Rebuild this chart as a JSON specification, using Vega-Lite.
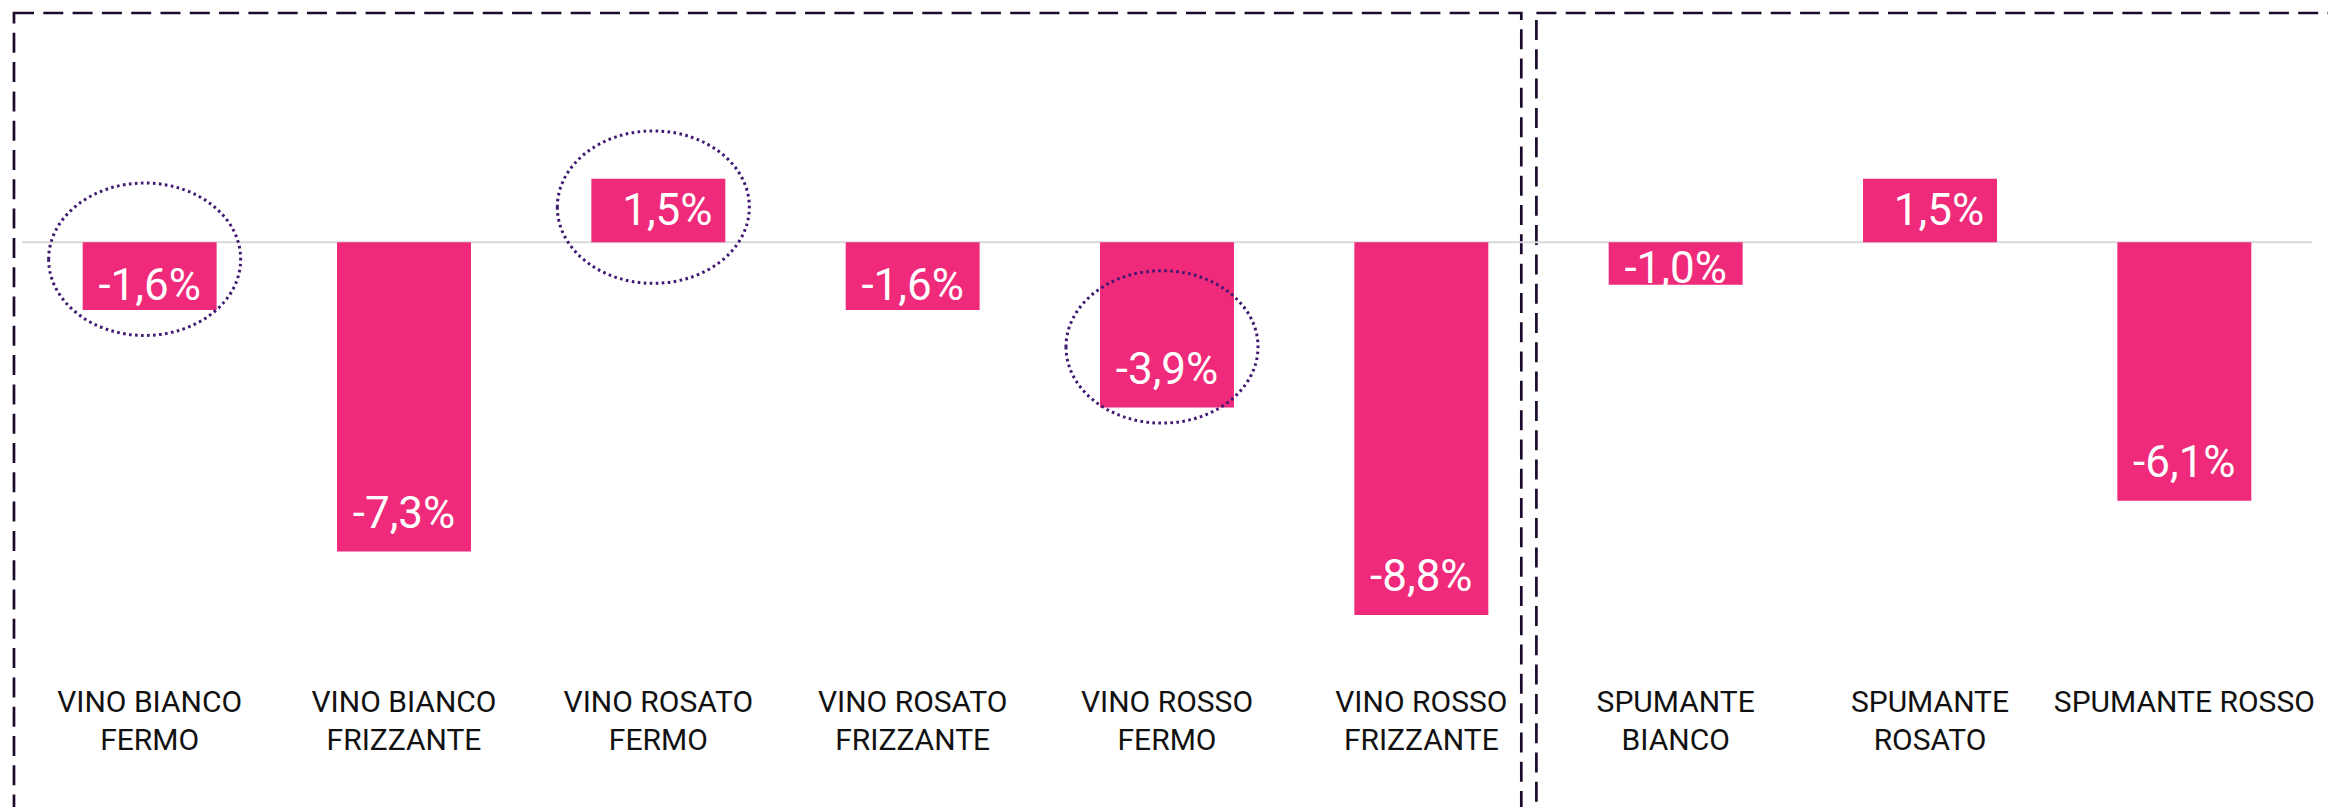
{
  "$schema": "https://vega.github.io/schema/vega-lite/v6.json",
  "width": 2290,
  "height": 794,
  "autosize": {"type": "none"},
  "padding": {"left": 22, "top": 13, "right": 16, "bottom": 0},
  "background": "white",
  "config": {
    "view": {"stroke": null},
    "locale": {"number": {"decimal": ",", "thousands": ".", "grouping": [3], "currency": ["", " €"], "minus": "-", "percent": "%"}}
  },
  "datasets": {
    "bars": [
      {"category": "VINO BIANCO\nFERMO", "value": -0.016, "ell": -0.0040},
      {"category": "VINO BIANCO\nFRIZZANTE", "value": -0.073, "ell": null},
      {"category": "VINO ROSATO\nFERMO", "value": 0.015, "ell": 0.0083},
      {"category": "VINO ROSATO\nFRIZZANTE", "value": -0.016, "ell": null},
      {"category": "VINO ROSSO\nFERMO", "value": -0.039, "ell": -0.0247},
      {"category": "VINO ROSSO\nFRIZZANTE", "value": -0.088, "ell": null},
      {"category": "SPUMANTE\nBIANCO", "value": -0.010, "ell": null},
      {"category": "SPUMANTE\nROSATO", "value": 0.015, "ell": null},
      {"category": "SPUMANTE ROSSO", "value": -0.061, "ell": null}
    ]
  },
  "data": {"name": "bars"},
  "layer": [
    {
      "data": {"values": [{"from": "VINO BIANCO\nFERMO", "to": "VINO ROSSO\nFRIZZANTE", "top": 0.05414, "bottom": -0.2}]},
      "mark": {"type": "rect", "filled": false, "stroke": "#1c0a2c", "strokeWidth": 2.7, "strokeDash": [20, 9.3], "xOffset": -68.7, "x2Offset": 33},
      "encoding": {
        "x": {"field": "from", "type": "nominal", "bandPosition": 0, "axis": null, "scale": {"domain": ["VINO BIANCO\nFERMO", "VINO BIANCO\nFRIZZANTE", "VINO ROSATO\nFERMO", "VINO ROSATO\nFRIZZANTE", "VINO ROSSO\nFERMO", "VINO ROSSO\nFRIZZANTE", "SPUMANTE\nBIANCO", "SPUMANTE\nROSATO", "SPUMANTE ROSSO"], "paddingInner": 0.4733, "paddingOuter": 0.2386}},
        "x2": {"field": "to", "bandPosition": 1},
        "y": {"field": "top", "type": "quantitative", "axis": null, "scale": {"domain": [-0.13334, 0.05414], "nice": false, "zero": false}},
        "y2": {"field": "bottom"}
      }
    },
    {
      "data": {"values": [{"from": "SPUMANTE\nBIANCO", "to": "SPUMANTE ROSSO", "top": 0.05414, "bottom": -0.2}]},
      "mark": {"type": "rect", "filled": false, "stroke": "#1c0a2c", "strokeWidth": 2.7, "strokeDash": [20, 9.3], "xOffset": -72.3, "x2Offset": 200},
      "encoding": {
        "x": {"field": "from", "type": "nominal", "bandPosition": 0, "axis": null, "scale": {"domain": ["VINO BIANCO\nFERMO", "VINO BIANCO\nFRIZZANTE", "VINO ROSATO\nFERMO", "VINO ROSATO\nFRIZZANTE", "VINO ROSSO\nFERMO", "VINO ROSSO\nFRIZZANTE", "SPUMANTE\nBIANCO", "SPUMANTE\nROSATO", "SPUMANTE ROSSO"], "paddingInner": 0.4733, "paddingOuter": 0.2386}},
        "x2": {"field": "to", "bandPosition": 1},
        "y": {"field": "top", "type": "quantitative", "axis": null, "scale": {"domain": [-0.13334, 0.05414], "nice": false, "zero": false}},
        "y2": {"field": "bottom"}
      }
    },
    {
      "data": {"values": [{"zero": 0}]},
      "mark": {"type": "rule", "color": "#d9d9d9", "strokeWidth": 2},
      "encoding": {
        "y": {"field": "zero", "type": "quantitative", "axis": null, "scale": {"domain": [-0.13334, 0.05414], "nice": false, "zero": false}}
      }
    },
    {
      "mark": {"type": "bar", "color": "#EF2A7A"},
      "encoding": {
        "x": {"field": "category", "type": "nominal", "axis": null, "scale": {"domain": ["VINO BIANCO\nFERMO", "VINO BIANCO\nFRIZZANTE", "VINO ROSATO\nFERMO", "VINO ROSATO\nFRIZZANTE", "VINO ROSSO\nFERMO", "VINO ROSSO\nFRIZZANTE", "SPUMANTE\nBIANCO", "SPUMANTE\nROSATO", "SPUMANTE ROSSO"], "paddingInner": 0.4733, "paddingOuter": 0.2386}},
        "y": {"field": "value", "type": "quantitative", "axis": null, "scale": {"domain": [-0.13334, 0.05414], "nice": false, "zero": false}},
        "y2": {"datum": 0}
      }
    },
    {
      "transform": [
        {"filter": "datum.value < 0"},
        {"calculate": "min(datum.value, 0.667 * datum.value - 0.0084)", "as": "lab"}
      ],
      "mark": {"type": "text", "color": "white", "font": "Roboto", "fontSize": 44, "baseline": "alphabetic", "align": "center", "dy": -23.5},
      "encoding": {
        "x": {"field": "category", "type": "nominal", "axis": null, "scale": {"domain": ["VINO BIANCO\nFERMO", "VINO BIANCO\nFRIZZANTE", "VINO ROSATO\nFERMO", "VINO ROSATO\nFRIZZANTE", "VINO ROSSO\nFERMO", "VINO ROSSO\nFRIZZANTE", "SPUMANTE\nBIANCO", "SPUMANTE\nROSATO", "SPUMANTE ROSSO"], "paddingInner": 0.4733, "paddingOuter": 0.2386}},
        "y": {"field": "lab", "type": "quantitative", "axis": null, "scale": {"domain": [-0.13334, 0.05414], "nice": false, "zero": false}},
        "text": {"field": "value", "type": "quantitative", "format": ".1%"}
      }
    },
    {
      "transform": [{"filter": "datum.value > 0"}],
      "mark": {"type": "text", "color": "white", "font": "Roboto", "fontSize": 44, "baseline": "alphabetic", "align": "center", "dy": 46.5, "dx": 9},
      "encoding": {
        "x": {"field": "category", "type": "nominal", "axis": null, "scale": {"domain": ["VINO BIANCO\nFERMO", "VINO BIANCO\nFRIZZANTE", "VINO ROSATO\nFERMO", "VINO ROSATO\nFRIZZANTE", "VINO ROSSO\nFERMO", "VINO ROSSO\nFRIZZANTE", "SPUMANTE\nBIANCO", "SPUMANTE\nROSATO", "SPUMANTE ROSSO"], "paddingInner": 0.4733, "paddingOuter": 0.2386}},
        "y": {"field": "value", "type": "quantitative", "axis": null, "scale": {"domain": [-0.13334, 0.05414], "nice": false, "zero": false}},
        "text": {"field": "value", "type": "quantitative", "format": ".1%"}
      }
    },
    {
      "mark": {"type": "point", "shape": "M-1,0A1,0.794 0 1,0 1,0A1,0.794 0 1,0 -1,0Z", "size": 36864, "filled": false, "stroke": "#3f1870", "strokeWidth": 3, "strokeDash": [2.6, 3.4], "opacity": 1, "xOffset": -5},
      "encoding": {
        "x": {"field": "category", "type": "nominal", "axis": null, "scale": {"domain": ["VINO BIANCO\nFERMO", "VINO BIANCO\nFRIZZANTE", "VINO ROSATO\nFERMO", "VINO ROSATO\nFRIZZANTE", "VINO ROSSO\nFERMO", "VINO ROSSO\nFRIZZANTE", "SPUMANTE\nBIANCO", "SPUMANTE\nROSATO", "SPUMANTE ROSSO"], "paddingInner": 0.4733, "paddingOuter": 0.2386}},
        "y": {"field": "ell", "type": "quantitative", "axis": null, "scale": {"domain": [-0.13334, 0.05414], "nice": false, "zero": false}}
      }
    },
    {
      "mark": {"type": "text", "color": "#111111", "font": "Roboto", "fontSize": 30, "baseline": "alphabetic", "align": "center", "lineBreak": "\n", "lineHeight": 38},
      "encoding": {
        "x": {"field": "category", "type": "nominal", "axis": null, "scale": {"domain": ["VINO BIANCO\nFERMO", "VINO BIANCO\nFRIZZANTE", "VINO ROSATO\nFERMO", "VINO ROSATO\nFRIZZANTE", "VINO ROSSO\nFERMO", "VINO ROSSO\nFRIZZANTE", "SPUMANTE\nBIANCO", "SPUMANTE\nROSATO", "SPUMANTE ROSSO"], "paddingInner": 0.4733, "paddingOuter": 0.2386}},
        "y": {"datum": -0.1109, "type": "quantitative", "axis": null, "scale": {"domain": [-0.13334, 0.05414], "nice": false, "zero": false}},
        "text": {"field": "category", "type": "nominal"}
      }
    }
  ]
}
